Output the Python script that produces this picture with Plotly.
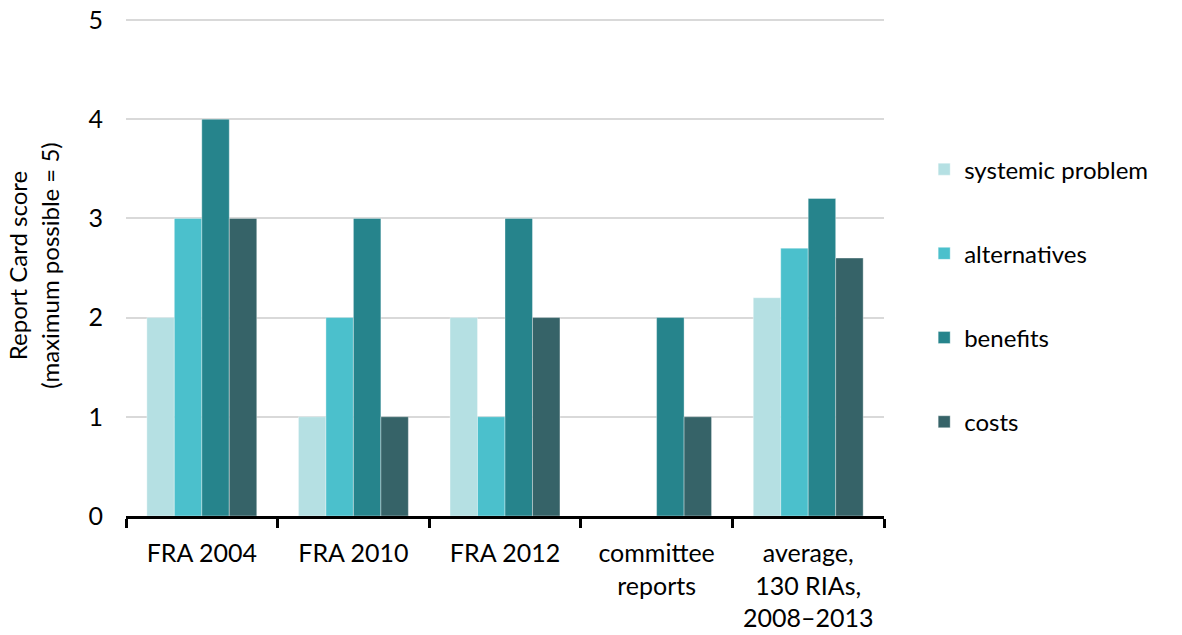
import plotly.graph_objects as go

categories = ["FRA 2004", "FRA 2010", "FRA 2012", "committee<br>reports",
              "average,<br>130 RIAs,<br>2008–2013"]
series_names = ["systemic problem", "alternatives", "benefits", "costs"]
systemic_problem = [2, 1, 2, 0, 2.2]
alternatives = [3, 2, 1, 0, 2.7]
benefits = [4, 3, 3, 2, 3.2]
costs = [3, 1, 2, 1, 2.6]
colors = ["#b5e0e3", "#4bc0cc", "#26848c", "#366368"]
y_ticks = [0, 1, 2, 3, 4, 5]

FONT = "Lato"
fig = go.Figure()
for name, vals, col in zip(series_names, [systemic_problem, alternatives, benefits, costs], colors):
    fig.add_trace(go.Bar(x=categories, y=vals, name=name, legendgroup=name,
                         marker=dict(color=col, line=dict(width=0.6, color="rgba(255,255,255,0.6)"))))

fig.update_layout(
    width=1182, height=635,
    margin=dict(l=126, r=298, t=15, b=119),
    plot_bgcolor="white", paper_bgcolor="white",
    barmode="group", bargap=0.275, bargroupgap=0,
    font=dict(family=FONT, size=25, color="black"),
    legend=dict(x=1.053, xanchor="left", y=0.44, yanchor="middle",
                font=dict(size=24, family=FONT), tracegroupgap=50,
                itemwidth=30, bgcolor="rgba(0,0,0,0)"),
    xaxis=dict(type="category", tickson="boundaries", ticks="outside", ticklen=9,
               tickwidth=3, tickcolor="black", showline=True, linecolor="black",
               linewidth=3, showgrid=False, tickfont=dict(size=25, family=FONT),
               ticklabelstandoff=13, automargin=False),
    yaxis=dict(range=[0, 5.05], tickvals=y_ticks, showgrid=True, gridcolor="#d9d9d9",
               gridwidth=1.5, showline=False, zeroline=False, ticks="",
               tickfont=dict(size=25, family=FONT), ticklabelstandoff=22,
               automargin=False,
               title=dict(text="Report Card score<br>(maximum possible = 5)",
                          font=dict(size=24, family=FONT), standoff=22)),
)
fig.write_html("out.html")
